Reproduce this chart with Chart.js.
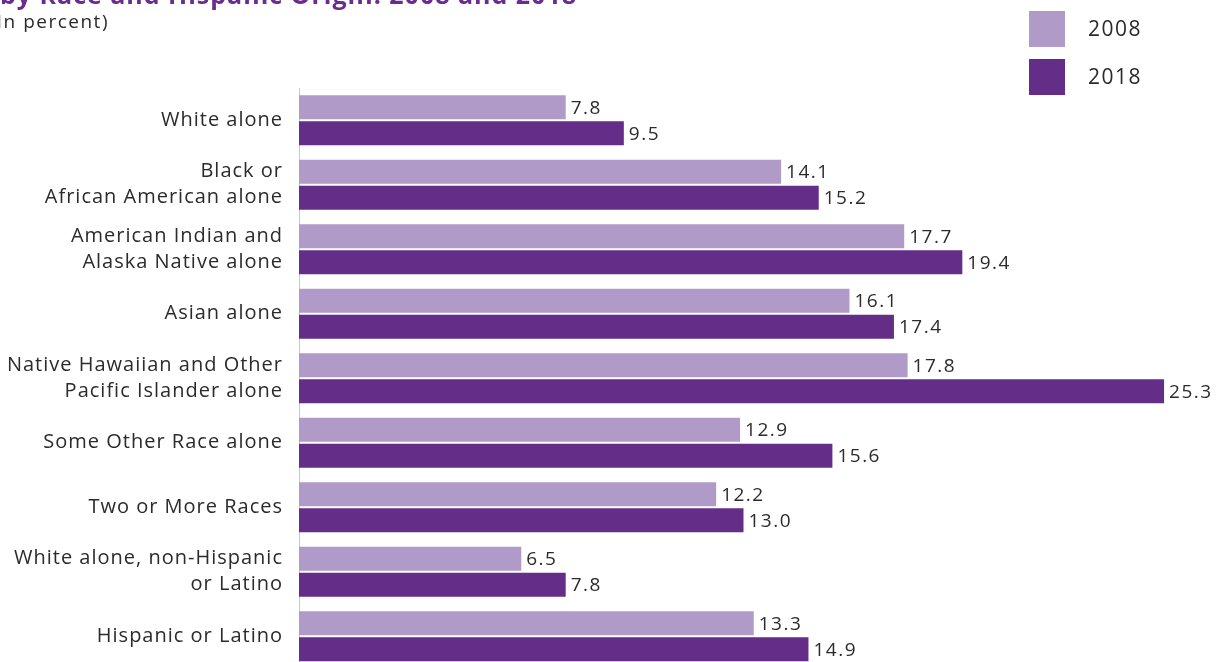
<!DOCTYPE html>
<html>
<head>
<meta charset="utf-8">
<script src="https://cdn.jsdelivr.net/npm/chart.js@4.4.1/dist/chart.umd.min.js"></script>
<style>
html, body { margin: 0; padding: 0; background: #fff; overflow: hidden; }
#wrap { position: relative; width: 1222px; height: 680px; }
</style>
</head>
<body>
<div id="wrap"><canvas id="chart" width="1222" height="680"></canvas></div>
<script>
// Data
const categories = [
    ["White alone"],
    ["Black or", "African American alone"],
    ["American Indian and", "Alaska Native alone"],
    ["Asian alone"],
    ["Native Hawaiian and Other", "Pacific Islander alone"],
    ["Some Other Race alone"],
    ["Two or More Races"],
    ["White alone, non-Hispanic", "or Latino"],
    ["Hispanic or Latino"]
];
const seriesNames = ["2008", "2018"];
const values2008 = [7.8, 14.1, 17.7, 16.1, 17.8, 12.9, 12.2, 6.5, 13.3];
const values2018 = [9.5, 15.2, 19.4, 17.4, 25.3, 15.6, 13.0, 7.8, 14.9];
const titleText = "by Race and Hispanic Origin: 2008 and 2018";
const subtitleText = "(In percent)";

const FONT = "'Open Sans', sans-serif";
const TEXT = "#2b2b2b";
const COLORS = ["#b09ac7", "#632d88"];

// Slightly wider tracking for the axis labels
const tracking = {
    id: "tracking",
    beforeDraw(chart) { chart.ctx.letterSpacing = "1px"; }
};

// Value labels at the end of each bar
const valueLabels = {
    id: "valueLabels",
    afterDatasetsDraw(chart) {
        const ctx = chart.ctx;
        ctx.save();
        ctx.letterSpacing = "1.5px";
        ctx.font = "19px " + FONT;
        ctx.fillStyle = TEXT;
        ctx.textAlign = "left";
        ctx.textBaseline = "middle";
        chart.data.datasets.forEach((ds, i) => {
            chart.getDatasetMeta(i).data.forEach((bar, j) => {
                ctx.fillText(ds.data[j].toFixed(1), bar.x + 5, bar.y + 1);
            });
        });
        ctx.restore();
    }
};

// Heading and square legend
const header = {
    id: "header",
    afterDraw(chart) {
        const ctx = chart.ctx;
        ctx.save();
        ctx.letterSpacing = "1px";
        ctx.textAlign = "right";
        ctx.textBaseline = "alphabetic";
        ctx.fillStyle = "#6a2c8f";
        ctx.font = "bold 25px " + FONT;
        ctx.fillText(titleText, 577, 4);
        ctx.letterSpacing = "1.5px";
        ctx.fillStyle = TEXT;
        ctx.font = "19px " + FONT;
        ctx.fillText(subtitleText, 109, 28);

        ctx.textAlign = "left";
        ctx.textBaseline = "middle";
        ctx.font = "21px " + FONT;
        chart.data.datasets.forEach((ds, i) => {
            const y = 11 + i * 48;
            ctx.fillStyle = ds.backgroundColor;
            ctx.fillRect(1029, y, 36, 36);
            ctx.fillStyle = TEXT;
            ctx.fillText(ds.label, 1088, y + 19);
        });
        ctx.restore();
    }
};

new Chart(document.getElementById("chart"), {
    type: "bar",
    data: {
        labels: categories,
        datasets: [
            { label: seriesNames[0], data: values2008, backgroundColor: COLORS[0] },
            { label: seriesNames[1], data: values2018, backgroundColor: COLORS[1] }
        ]
    },
    options: {
        indexAxis: "y",
        responsive: false,
        animation: false,
        devicePixelRatio: 1,
        categoryPercentage: 52 / 64.5,
        barPercentage: 24 / 26,
        layout: { padding: { top: 88, right: 34, bottom: 11.5, left: 0 } },
        plugins: {
            legend: { display: false },
            tooltip: { enabled: false }
        },
        scales: {
            x: {
                display: false,
                min: 0,
                max: 26
            },
            y: {
                afterFit(scale) {
                    scale.width = 299;
                    scale.paddingTop = 0;
                    scale.paddingBottom = 0;
                },
                grid: { display: false, drawTicks: false },
                border: { display: true, color: "#c8c8c8", width: 1 },
                ticks: {
                    color: TEXT,
                    padding: 16,
                    font: { family: FONT, size: 20, lineHeight: 1.3 }
                }
            }
        }
    },
    plugins: [tracking, valueLabels, header]
});
</script>
</body>
</html>
